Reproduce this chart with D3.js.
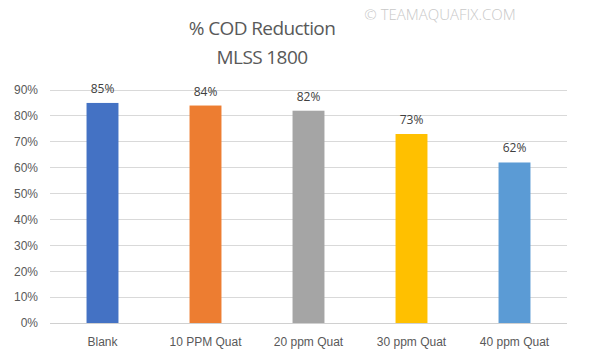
<!DOCTYPE html>
<html><head><meta charset="utf-8">
<script src="https://cdn.jsdelivr.net/npm/d3@7"></script>
<style>body{margin:0;background:#fff;}svg{display:block;font-family:"Open Sans","Noto Sans",sans-serif;}</style>
</head><body><svg id="c" width="601" height="360"></svg>
<script>
const categories = ["Blank","10 PPM Quat","20 ppm Quat","30 ppm Quat","40 ppm Quat"];
const values = [0.85,0.84,0.82,0.73,0.62];
const colors = ["#4472C4","#ED7D31","#A5A5A5","#FFC000","#5B9BD5"];
const ticks = [0,0.1,0.2,0.3,0.4,0.5,0.6,0.7,0.8,0.9];

const svg = d3.select("#c");
const x = d3.scaleBand().domain(categories).range([51,566]).paddingInner(0.69).paddingOuter(0.345);
const y = d3.scaleLinear().domain([0,0.9]).range([323,90]);

svg.append("g").selectAll("line").data(ticks).join("line")
  .attr("x1",50).attr("x2",567).attr("y1",d=>y(d)).attr("y2",d=>y(d))
  .attr("stroke",d=>d===0?"#d0d0d0":"#d9d9d9").attr("stroke-width",1).attr("shape-rendering","crispEdges");

const yAxis = d3.axisLeft(y).tickValues(ticks).tickFormat(d3.format(".0%")).tickSize(0).tickPadding(0);
const ga = svg.append("g").attr("transform","translate(38,0)").call(yAxis);
ga.select(".domain").remove();
ga.selectAll("text").attr("fill","#595959").style("font-size","12px");

svg.append("g").selectAll("rect").data(values).join("rect")
  .attr("x",(d,i)=>x(categories[i])).attr("width",x.bandwidth())
  .attr("y",d=>y(d)).attr("height",d=>y(0)-y(d)).attr("fill",(d,i)=>colors[i]);

svg.append("g").selectAll("text").data(values).join("text")
  .attr("x",(d,i)=>x(categories[i])+x.bandwidth()/2).attr("y",d=>y(d)-10)
  .attr("text-anchor","middle").attr("fill","#404040").style("font-size","12px")
  .text(d=>d3.format(".0%")(d));

const xAxis = d3.axisBottom(x).tickSize(0).tickPadding(0);
const gx = svg.append("g").attr("transform","translate(0,337)").call(xAxis);
gx.select(".domain").remove();
gx.selectAll("text").attr("fill","#595959").style("font-size","12px");

svg.append("text").attr("x",262).attr("y",35).attr("text-anchor","middle").attr("fill","#595959")
  .style("font-size","19px").style("letter-spacing","-0.6px").text("% COD Reduction");
svg.append("text").attr("x",262).attr("y",64).attr("text-anchor","middle").attr("fill","#595959")
  .style("font-size","19px").style("letter-spacing","-0.6px").text("MLSS 1800");
svg.append("text").attr("x",440).attr("y",20).attr("text-anchor","middle").attr("fill","#c8c8c8")
  .style("font-size","15px").style("font-weight","300").text("© TEAMAQUAFIX.COM");
</script></body></html>
